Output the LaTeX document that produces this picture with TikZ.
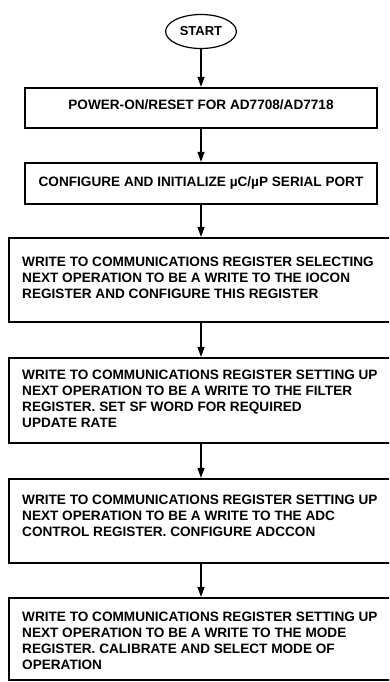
\documentclass[tikz,border=0pt]{standalone}
\usepackage{fontspec}
\setmainfont{Liberation Sans}
\usetikzlibrary{arrows.meta,shapes.geometric}
\newcommand\diagfont{\fontsize{13.6}{16}\selectfont\bfseries}
\begin{document}
\begin{tikzpicture}[x=1pt,y=-1pt,
  box/.style={draw, rectangle, line width=2.2pt, inner sep=0pt, font=\diagfont, text height=9.7pt},
  bigbox/.style={draw, rectangle, line width=2.2pt, inner sep=0pt, minimum width=384pt},
  txt/.style={anchor=north west, inner sep=0pt, align=left, font=\diagfont},
  arr/.style={draw, line width=1.1pt, -{Triangle[length=10pt,width=7pt]}}]
\clip (0,0) rectangle (389,682);
\fill[white] (0,0) rectangle (389,682);
% start
\node[ellipse, draw, line width=1.2pt, minimum width=70.8pt, minimum height=34pt, inner sep=0pt, font=\fontsize{13}{15}\selectfont\bfseries] (start) at (201,31.5) {START};
% small boxes
\node[box, minimum width=352pt, minimum height=40pt, text depth=6pt] (b1) at (201,108) {POWER-ON/RESET FOR AD7708/AD7718};
\node[box, minimum width=352pt, minimum height=41pt, text depth=3pt] (b2) at (201,183.5) {CONFIGURE AND INITIALIZE µC/µP SERIAL PORT};
% big boxes
\node[bigbox, minimum height=84pt] (b3) at (201,280) {};
\node[bigbox, minimum height=85pt] (b4) at (201,400.5) {};
\node[bigbox, minimum height=84pt] (b5) at (201,521) {};
\node[bigbox, minimum height=82pt] (b6) at (201,639) {};
% texts
\node[txt] (t3) at (22,256.8) {WRITE TO COMMUNICATIONS REGISTER SELECTING\\NEXT OPERATION TO BE A WRITE TO THE IOCON\\REGISTER AND CONFIGURE THIS REGISTER};
\node[txt] (t4) at (22,370) {WRITE TO COMMUNICATIONS REGISTER SETTING UP\\NEXT OPERATION TO BE A WRITE TO THE FILTER\\REGISTER. SET SF WORD FOR REQUIRED\\UPDATE RATE};
\node[txt] (t5) at (22,495) {WRITE TO COMMUNICATIONS REGISTER SETTING UP\\NEXT OPERATION TO BE A WRITE TO THE ADC\\CONTROL REGISTER. CONFIGURE ADCCON};
\node[txt] (t6) at (22,611.8) {WRITE TO COMMUNICATIONS REGISTER SETTING UP\\NEXT OPERATION TO BE A WRITE TO THE MODE\\REGISTER. CALIBRATE AND SELECT MODE OF\\OPERATION};
% arrows
\draw[arr] (start.south) -- (b1.north);
\draw[arr] (b1.south) -- (b2.north);
\draw[arr] (b2.south) -- (b3.north);
\draw[arr] (b3.south) -- (b4.north);
\draw[arr] (b4.south) -- (b5.north);
\draw[arr] (b5.south) -- (b6.north);
\end{tikzpicture}
\end{document}
